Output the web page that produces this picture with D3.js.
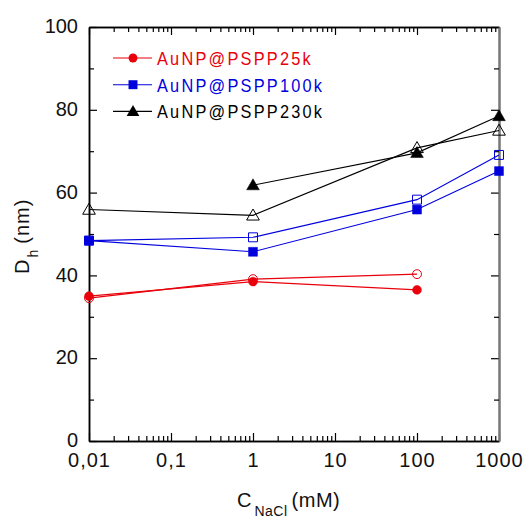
<!DOCTYPE html>
<html><head><meta charset="utf-8">
<script src="https://cdn.jsdelivr.net/npm/d3@7"></script>
<style>body{margin:0;background:#fff}svg{display:block}text{font-family:"Liberation Sans",Arial,sans-serif}</style>
</head><body>
<div id="chart"></div>
<script>
const xValues = [0.01, 1, 100, 1000];
// PSPP25k
const red_filled = [35.0, 38.5, 36.5, null];
const red_open   = [34.5, 39.1, 40.3, null];
// PSPP100k
const blue_filled = [48.4, 45.7, 55.9, 65.2];
const blue_open   = [48.4, 49.2, 58.3, 69.1];
// PSPP230k
const black_filled = [null, 61.8, 69.6, 78.5];
const black_open   = [55.9, 54.5, 70.8, 75.0];
const xTickValues = [0.01, 0.1, 1, 10, 100, 1000];
const xTickLabels = ["0,01", "0,1", "1", "10", "100", "1000"];
const yTickValues = [0, 20, 40, 60, 80, 100];
const legendLabels = ["AuNP@PSPP25k", "AuNP@PSPP100k", "AuNP@PSPP230k"];

(function(){
const W = 525, H = 519;
const m = {l: 89, r: 499, t: 27, b: 441};
const RED = "#e8000b", BLUE = "#0000dd", BLACK = "#000";

const svg = d3.select("#chart").append("svg").attr("width", W).attr("height", H);
const x = d3.scaleLog().domain([0.01, 1000]).range([m.l, m.r]);
const y = d3.scaleLinear().domain([0, 100]).range([m.b, m.t]);

const minorX = [];
for (let e = -2; e < 3; e++) for (let k = 2; k <= 9; k++) minorX.push(k * Math.pow(10, e));
const minorY = [10, 30, 50, 70, 90];

const ax = svg.append("g");
const gBottom = ax.append("g").attr("transform", `translate(0,${m.b})`)
  .call(d3.axisBottom(x).tickValues(xTickValues).tickSize(-8).tickSizeOuter(0).tickFormat((d,i)=>xTickLabels[i]));
gBottom.append("g").call(d3.axisBottom(x).tickValues(minorX).tickSize(-5).tickSizeOuter(0).tickFormat(""));
const gTop = ax.append("g").attr("transform", `translate(0,${m.t})`)
  .call(d3.axisTop(x).tickValues(xTickValues).tickSize(-8).tickSizeOuter(0).tickFormat(""));
gTop.append("g").call(d3.axisTop(x).tickValues(minorX).tickSize(-5).tickSizeOuter(0).tickFormat(""));
const gLeft = ax.append("g").attr("transform", `translate(${m.l},0)`)
  .call(d3.axisLeft(y).tickValues(yTickValues).tickSize(-8).tickSizeOuter(0).tickFormat(d3.format("d")));
gLeft.append("g").call(d3.axisLeft(y).tickValues(minorY).tickSize(-5).tickSizeOuter(0).tickFormat(""));
const gRight = ax.append("g").attr("transform", `translate(${m.r},0)`)
  .call(d3.axisRight(y).tickValues(yTickValues).tickSize(-8).tickSizeOuter(0).tickFormat(""));
gRight.append("g").call(d3.axisRight(y).tickValues(minorY).tickSize(-5).tickSizeOuter(0).tickFormat(""));

ax.selectAll("path.domain").attr("stroke", "#000").attr("stroke-width", 1.5);
gRight.selectAll("path.domain").attr("stroke", "#777").attr("stroke-width", 2);
ax.selectAll(".tick line").attr("stroke", "#000").attr("stroke-width", 1.2);
ax.selectAll(".tick text").attr("font-size", 20).attr("fill", "#111").attr("font-family", '"Liberation Sans",Arial,sans-serif');
gBottom.selectAll(".tick text").attr("dy", "0.71em").attr("y", 12).attr("letter-spacing", 1);
gLeft.selectAll(".tick text").attr("x", -11).attr("dy", "0.28em");

const yt = svg.append("text").attr("transform", "translate(29,274) rotate(-90)").attr("font-size", 20).attr("fill", "#111");
yt.append("tspan").text("D");
yt.append("tspan").attr("font-size", 14).attr("dy", 9).attr("dx", 2).text("h");
yt.append("tspan").attr("dy", -9).attr("dx", 6).attr("letter-spacing", 1).text("(nm)");

const xt = svg.append("text").attr("x", 237).attr("y", 507).attr("font-size", 20).attr("fill", "#111");
xt.append("tspan").text("C");
xt.append("tspan").attr("font-size", 14).attr("dy", 9).attr("dx", 3).attr("letter-spacing", 0.5).text("NaCl");
xt.append("tspan").attr("dy", -9).attr("dx", 4).attr("letter-spacing", 0.5).text("(mM)");

const series = [
  {v: red_filled, c: RED, shape: "circle", filled: true},
  {v: red_open, c: RED, shape: "circle", filled: false},
  {v: blue_filled, c: BLUE, shape: "square", filled: true},
  {v: blue_open, c: BLUE, shape: "square", filled: false},
  {v: black_filled, c: BLACK, shape: "triangle", filled: true},
  {v: black_open, c: BLACK, shape: "triangle", filled: false},
];
const sym = {
  circle: d3.symbol().type(d3.symbolCircle).size(62),
  square: d3.symbol().type(d3.symbolSquare).size(80),
  triangle: d3.symbol().type(d3.symbolTriangle).size(70),
};
const line = d3.line().defined(d => d[1] != null).x(d => x(d[0])).y(d => y(d[1]));
const g = svg.append("g");
series.forEach(s => {
  const pts = xValues.map((xv, i) => [xv, s.v[i]]);
  g.append("path").attr("d", line(pts)).attr("fill", "none").attr("stroke", s.c).attr("stroke-width", 1.1);
});
series.slice().reverse().forEach(s => {
  const pts = xValues.map((xv, i) => [xv, s.v[i]]).filter(d => d[1] != null);
  g.selectAll(null).data(pts).enter().append("path")
    .attr("transform", d => `translate(${x(d[0])},${y(d[1]) + (s.shape === "triangle" ? 1 : 0)})`)
    .attr("d", sym[s.shape])
    .attr("fill", s.filled ? s.c : "none")
    .attr("stroke", s.c).attr("stroke-width", s.filled ? 0.5 : 1);
});

const legColors = [RED, BLUE, BLACK];
const legShapes = ["circle", "square", "triangle"];
const lg = svg.append("g");
legendLabels.forEach((lab, i) => {
  const yy = 58 + i * 26.7;
  lg.append("line").attr("x1", 113).attr("x2", 152).attr("y1", yy).attr("y2", yy).attr("stroke", legColors[i]).attr("stroke-width", 1.1);
  lg.append("path").attr("transform", `translate(133,${yy + (i === 2 ? 1 : 0)})`).attr("d", sym[legShapes[i]]).attr("fill", legColors[i]);
  lg.append("text").attr("transform", `translate(157,${yy}) scale(0.86,1)`).attr("dy", "0.36em").attr("font-size", 19)
    .attr("letter-spacing", 2.6).attr("fill", legColors[i]).text(lab);
});
})();
</script>
</body></html>
